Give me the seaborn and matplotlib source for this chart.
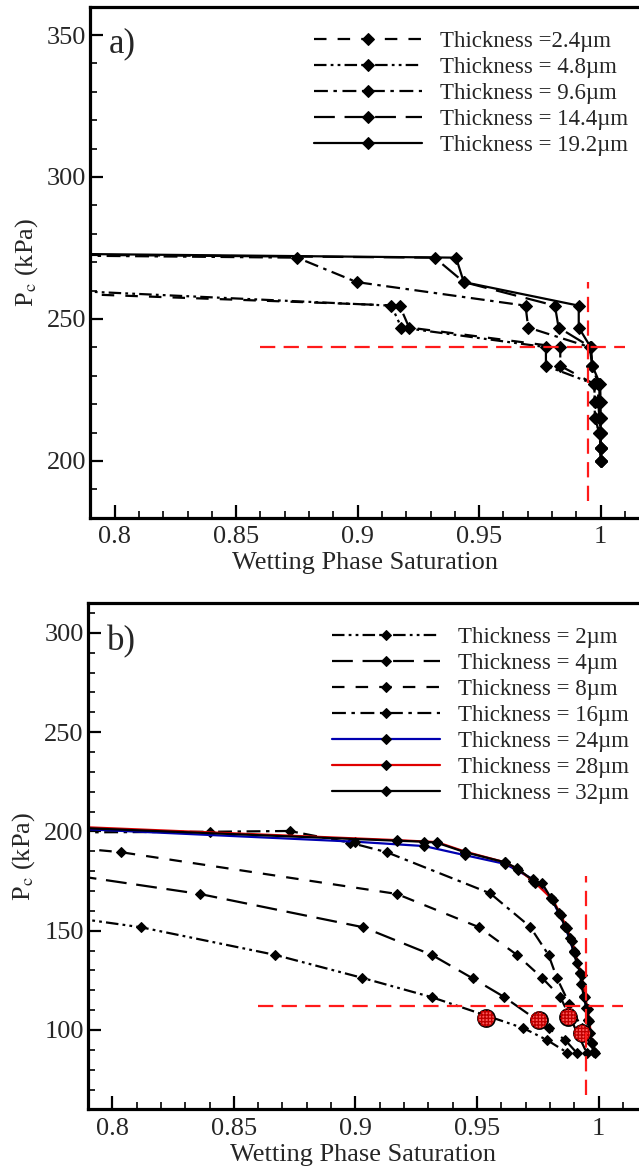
import matplotlib
matplotlib.use("Agg")
import matplotlib.pyplot as plt
import seaborn as sns
from matplotlib.ticker import MultipleLocator, FuncFormatter

# ---------------- Panel a: capillary pressure curves ----------------
sat_a_2p4 = [0.785, 0.9173, 0.9212, 0.9834, 0.9834, 0.9974, 0.9976, 0.9976, 0.9995, 1.0, 1.0]
pc_a_2p4 = [258.8, 254.7, 247.0, 240.1, 233.5, 227.1, 220.9, 215.2, 209.9, 204.7, 200.0]

sat_a_4p8 = [0.785, 0.9139, 0.9180, 0.9775, 0.9775, 0.9974, 0.9976, 0.9976, 0.9995, 1.0, 1.0]
pc_a_4p8 = [259.8, 254.7, 247.0, 240.1, 233.5, 227.1, 220.9, 215.2, 209.9, 204.7, 200.0]

sat_a_9p6 = [0.785, 0.8751, 0.8996, 0.9691, 0.9702, 0.9955, 0.9966, 0.9990, 0.9990, 0.9995, 1.0, 1.0, 1.0]
pc_a_9p6 = [272.3, 271.6, 263.0, 254.7, 247.0, 240.1, 233.5, 227.1, 220.9, 215.2, 209.9, 204.7, 200.0]

sat_a_14p4 = [0.785, 0.9317, 0.9437, 0.9812, 0.9827, 0.9959, 0.9966, 0.9995, 0.9995, 1.0, 1.0, 1.0, 1.0]
pc_a_14p4 = [272.6, 271.6, 263.0, 254.7, 247.0, 240.1, 233.5, 227.1, 220.9, 215.2, 209.9, 204.7, 200.0]

sat_a_19p2 = [0.785, 0.9405, 0.9437, 0.9910, 0.9910, 0.9959, 0.9966, 0.9998, 1.0, 1.0, 1.0, 1.0, 1.0]
pc_a_19p2 = [272.9, 271.6, 263.0, 254.7, 247.0, 240.1, 233.5, 227.1, 220.9, 215.2, 209.9, 204.7, 200.0]

labels_a = ["Thickness =2.4µm", "Thickness = 4.8µm", "Thickness = 9.6µm",
            "Thickness = 14.4µm", "Thickness = 19.2µm"]

# ---------------- Panel b: capillary pressure curves ----------------
sat_b_2 = [0.785, 0.8119, 0.8670, 0.9026, 0.9314, 0.9691, 0.9787, 0.9872]
pc_b_2 = [156.3, 151.7, 137.8, 126.3, 116.5, 100.9, 95.0, 88.5]

sat_b_4 = [0.785, 0.8359, 0.9033, 0.9314, 0.9482, 0.9609, 0.9794, 0.9862, 0.9910]
pc_b_4 = [177.7, 168.5, 151.7, 137.8, 126.0, 116.8, 100.9, 95.0, 88.5]

sat_b_8 = [0.785, 0.8037, 0.9170, 0.9509, 0.9664, 0.9767, 0.9842, 0.9951]
pc_b_8 = [191.6, 189.5, 168.5, 151.7, 137.8, 126.3, 116.8, 88.5]

sat_b_16 = [0.785, 0.8400, 0.8729, 0.8978, 0.9129, 0.9554, 0.9718, 0.9794, 0.9829, 0.9880, 0.9931, 0.9986]
pc_b_16 = [199.5, 199.8, 200.2, 194.3, 189.5, 168.8, 152.0, 137.8, 126.0, 113.0, 100.9, 88.3]

sat_b_24 = [0.785, 0.9000, 0.9283, 0.9451, 0.9616, 0.9732, 0.9805, 0.9862, 0.9897, 0.9925,
            0.9940, 0.9958, 0.9972, 0.9980]
pc_b_24 = [201.3, 194.8, 192.6, 188.0, 183.6, 175.8, 166.5, 152.3, 139.6, 128.6,
           116.9, 105.0, 93.4, 89.0]

sat_b_28 = [0.785, 0.9170, 0.9335, 0.9451, 0.9616, 0.9670, 0.9740, 0.9812, 0.9845, 0.9868,
            0.9890, 0.9903, 0.9930, 0.9945, 0.9955, 0.9962, 0.9972, 0.9980]
pc_b_28 = [202.3, 195.6, 194.6, 189.8, 184.4, 180.8, 174.0, 165.5, 158.0, 151.5,
           145.0, 138.8, 127.5, 116.5, 110.5, 104.5, 93.3, 89.0]

sat_b_32 = [0.785, 0.9170, 0.9283, 0.9335, 0.9451, 0.9616, 0.9664, 0.9732, 0.9767, 0.9805,
            0.9839, 0.9862, 0.9883, 0.9897, 0.9910, 0.9925, 0.9928, 0.9940, 0.9950, 0.9958,
            0.9965, 0.9972, 0.9980]
pc_b_32 = [201.8, 195.3, 194.8, 194.3, 189.5, 184.4, 181.4, 175.2, 173.9, 166.3,
           158.8, 152.0, 146.2, 139.4, 133.6, 128.5, 123.0, 116.8, 110.9, 105.0,
           98.3, 93.3, 89.0]

labels_b = ["Thickness = 2µm", "Thickness = 4µm", "Thickness = 8µm", "Thickness = 16µm",
            "Thickness = 24µm", "Thickness = 28µm", "Thickness = 32µm"]

# breakthrough points
sat_break = [0.9537, 0.9753, 0.9876, 0.9931]
pc_break = [105.9, 105.0, 106.7, 98.3]

# reference cross-hair (threshold saturation and pressure)
sat_ref = 0.995
pc_ref_a = 240.0
pc_ref_b = 112.0

sns.set_theme(style="ticks")
plt.rcParams["font.family"] = ["Liberation Serif", "DejaVu Serif"]
plt.rcParams["mathtext.fontset"] = "stix"
plt.rcParams["lines.scale_dashes"] = False

DASH = (0, (9, 8))
LONGDASH = (0, (15, 7))
DASHDOT = (0, (10, 4, 2.5, 4))
DASHDOTDOT = (0, (9, 3, 2, 3, 2, 3))

FIG_W, FIG_H = 639, 1171
fig = plt.figure(figsize=(FIG_W / 100, FIG_H / 100), dpi=100)

def px_axes(left, top, right, bottom):
    return fig.add_axes([left / FIG_W, 1 - bottom / FIG_H,
                         (right - left) / FIG_W, (bottom - top) / FIG_H])

ax_a = px_axes(90.3, 6.6, 639, 517.8)
ax_b = px_axes(87.9, 603.0, 639, 1109.4)

def draw_series(ax, xs, ys, ls, color, label, ms, lw):
    sns.lineplot(x=xs, y=ys, ax=ax, sort=False, estimator=None, color=color,
                 linestyle=ls, linewidth=lw, marker="D", markersize=ms,
                 markerfacecolor="black", markeredgecolor="black", label=label,
                 legend=False)

series_a = [
    (sat_a_2p4, pc_a_2p4, DASH),
    (sat_a_4p8, pc_a_4p8, DASHDOTDOT),
    (sat_a_9p6, pc_a_9p6, DASHDOT),
    (sat_a_14p4, pc_a_14p4, LONGDASH),
    (sat_a_19p2, pc_a_19p2, "-"),
]
for (xs, ys, ls), lab in zip(series_a, labels_a):
    draw_series(ax_a, xs, ys, ls, "black", lab, 6.2, 1.6)

series_b = [
    (sat_b_2, pc_b_2, DASHDOTDOT, "black"),
    (sat_b_4, pc_b_4, LONGDASH, "black"),
    (sat_b_8, pc_b_8, DASH, "black"),
    (sat_b_16, pc_b_16, DASHDOT, "black"),
    (sat_b_24, pc_b_24, "-", "#0000b0"),
    (sat_b_28, pc_b_28, "-", "#e00000"),
    (sat_b_32, pc_b_32, "-", "black"),
]
for i, (xs, ys, ls, col) in enumerate(series_b):
    draw_series(ax_b, xs, ys, ls, col, labels_b[i], 5.6, 1.6)

# breakthrough markers
ax_b.scatter(sat_break, pc_break, s=150, facecolor="#ff5a5a", edgecolor="black",
             linewidth=1.3, zorder=6)
ax_b.scatter(sat_break, pc_break, s=150, facecolor="none", edgecolor="#c00000",
             hatch="+++++", linewidth=0, zorder=7)

# reference cross-hairs
red_dash = dict(color="#ff1a1a", linestyle=(0, (11, 6)), linewidth=1.6, zorder=8)
ax_a.plot([0.86, 1.01], [pc_ref_a, pc_ref_a], **red_dash)
ax_a.plot([sat_ref, sat_ref], [186, 263], **red_dash)
ax_b.plot([0.86, 1.01], [pc_ref_b, pc_ref_b], **red_dash)
ax_b.plot([sat_ref, sat_ref], [67, 177.5], **red_dash)

def style_axes(ax, ylim, xright):
    ax.set_xlim(0.79, xright)
    ax.set_ylim(*ylim)
    ax.xaxis.set_major_locator(MultipleLocator(0.05))
    ax.xaxis.set_minor_locator(MultipleLocator(0.01))
    ax.yaxis.set_major_locator(MultipleLocator(50))
    ax.yaxis.set_minor_locator(MultipleLocator(10))
    ax.xaxis.set_major_formatter(FuncFormatter(lambda v, p: "%g" % round(v, 3)))
    ax.tick_params(which="major", direction="in", length=9.5, width=1.6,
                   labelsize=19, color="black")
    ax.tick_params(which="minor", direction="in", length=5, width=1.2, color="black")
    ax.tick_params(axis="x", which="major", pad=6)
    ax.tick_params(axis="y", which="major", pad=3)
    for side in ["left", "bottom", "top"]:
        ax.spines[side].set_linewidth(2.3)
        ax.spines[side].set_color("black")
    ax.spines["right"].set_visible(False)
    ax.set_xlabel("Wetting Phase Saturation", fontsize=19, labelpad=3)
    ax.set_ylabel(r"P$_\mathrm{c}$ (kPa)", fontsize=19, labelpad=5)
    ax.set_facecolor("white")

style_axes(ax_a, (180, 360), 1.0158)
style_axes(ax_b, (60, 315), 1.0166)

ax_a.text(0.033, 0.927, "a)", transform=ax_a.transAxes, fontsize=25, va="center", ha="left")
ax_b.text(0.034, 0.923, "b)", transform=ax_b.transAxes, fontsize=25, va="center", ha="left")

def make_legend(ax, labels, anchor):
    handles = []
    for lab in labels:
        for ln in ax.get_lines():
            if ln.get_label() == lab:
                handles.append(ln)
                break
    ax.legend(handles, labels, loc="upper left", bbox_to_anchor=anchor, frameon=False,
              fontsize=16.5, handlelength=4.7, handletextpad=0.8, labelspacing=0.22,
              borderpad=0, borderaxespad=0, numpoints=1)

make_legend(ax_a, labels_a, (0.4077, 0.953))
make_legend(ax_b, labels_b, (0.443, 0.9536))

fig.savefig("out.png", dpi=100, facecolor="white")
